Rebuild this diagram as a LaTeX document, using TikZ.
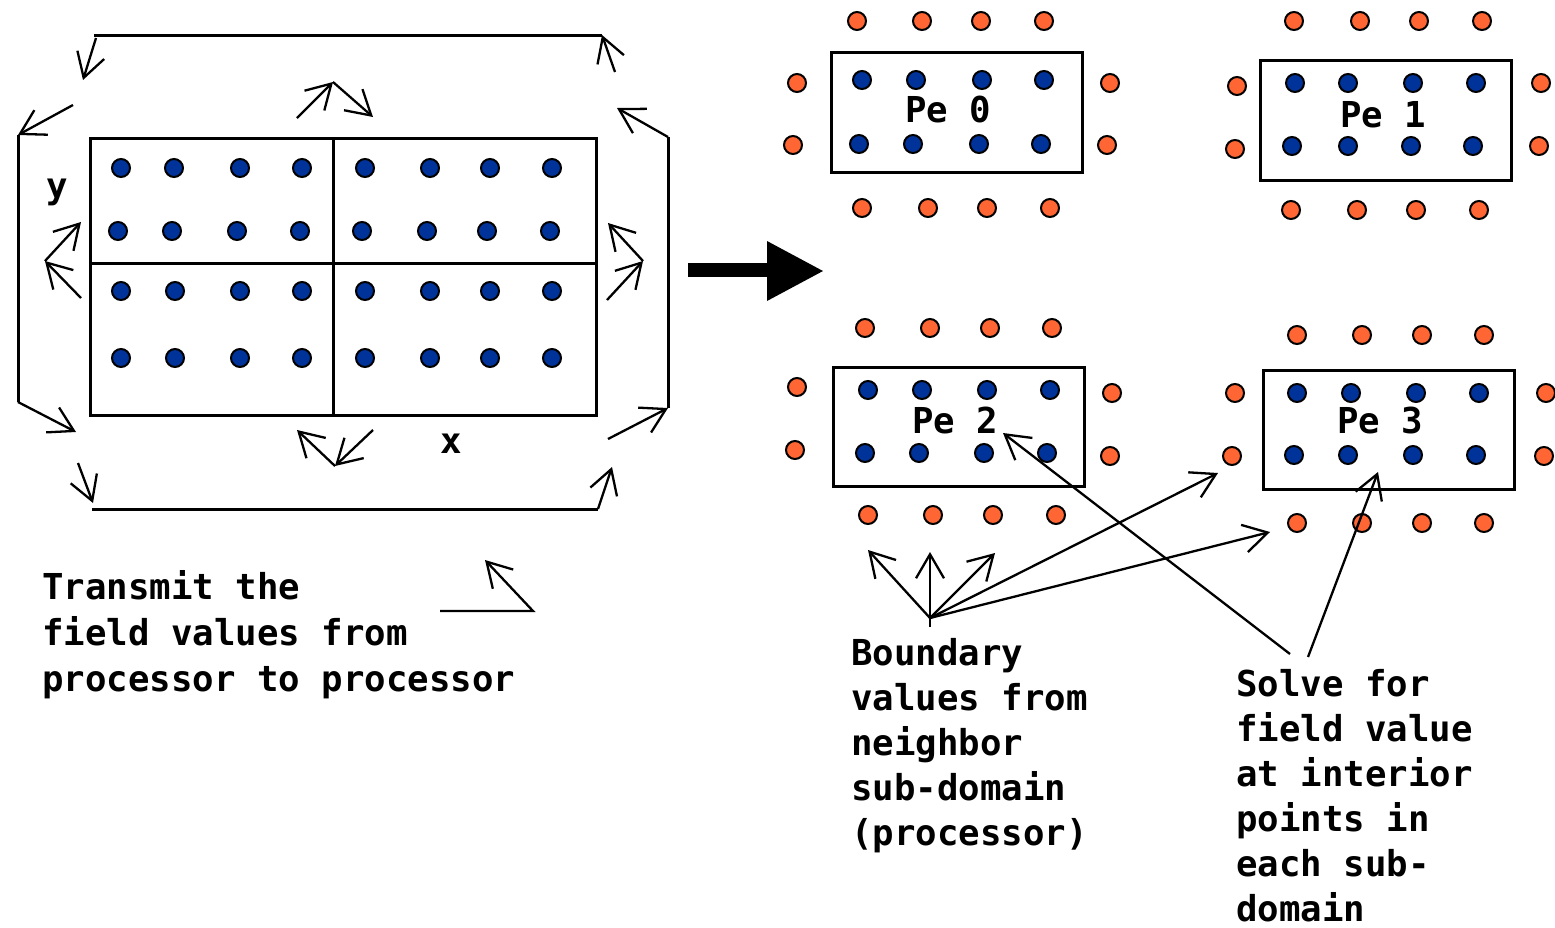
\documentclass[tikz,border=0pt]{standalone}
\usepackage{fontspec}
\newfontfamily\pixfont{DejaVu Sans Mono}
\usetikzlibrary{arrows.meta}
\definecolor{dotblue}{RGB}{0,51,153}
\definecolor{dotorange}{RGB}{255,102,51}
\tikzset{
  lbl/.style={font=\pixfont\bfseries\fontsize{35.7}{45}\selectfont, inner sep=0pt, anchor=base west},
  clbl/.style={lbl, anchor=base},
  frame/.style={line width=3pt},
  arr/.style={line width=2.3pt, -{Straight Barb[length=24pt,width=28pt,line width=2.3pt]}},
  bigarrow/.style={fill=black},
}
\newcommand{\bluedot}[2]{\filldraw[fill=dotblue,draw=black,line width=2pt] (#1,#2) circle (9pt);}
\newcommand{\orangedot}[2]{\filldraw[fill=dotorange,draw=black,line width=2pt] (#1,#2) circle (9pt);}
\begin{document}
\begin{tikzpicture}[x=1pt,y=-1pt]
\useasboundingbox (0,0) rectangle (1555,927);
\fill[white] (0,0) rectangle (1555,927);

% ---------- left grid ----------
\draw[frame] (90,138) rectangle (596,415);
\draw[frame] (333,138) -- (333,415);
\draw[frame] (90,263) -- (596,263);
\foreach \x in {121,174,240,302,365,430,490,552} {\bluedot{\x}{168}}
\foreach \x in {118,172,237,300,362,427,487,550} {\bluedot{\x}{231}}
\foreach \x in {121,175,240,302,365,430,490,552} {\bluedot{\x}{291}\bluedot{\x}{358}}
\node[clbl] (ylab) at (57,198) {y};
\node[clbl] (xlab) at (451,453) {x};

% ---------- surrounding loop ----------
\coordinate (tl) at (94,35);  \coordinate (tr) at (602,35);
\coordinate (lt) at (18,135); \coordinate (lb) at (18,402);
\coordinate (bl) at (92,509); \coordinate (br) at (598,509);
\coordinate (rt) at (668,137); \coordinate (rb) at (668,408);
\draw[frame] (tl) -- (tr);
\draw[frame] (lt) -- (lb);
\draw[frame] (bl) -- (br);
\draw[frame] (rt) -- (rb);
\draw[arr] (96,38) -- (83,80);
\draw[arr] (73,105) -- (lt);
\draw[arr] (lb) -- (76,432);
\draw[arr] (78,463) -- (93,503);
\draw[arr] (br) -- (612,467);
\draw[arr] (608,439) -- (rb);
\draw[arr] (rt) -- (617,108);
\draw[arr] (615,72) -- (tr);

% ---------- arrows around the grid ----------
\coordinate (topmid) at (333,82);
\coordinate (leftmid) at (45,261);
\coordinate (rightmid) at (643,261);
\coordinate (botmid) at (335,466);
\draw[arr] (297,118) -- (topmid);
\draw[arr] (topmid) -- (373,117);
\draw[arr] (81,298) -- (leftmid);
\draw[arr] (leftmid) -- (81,222);
\draw[arr] (607,300) -- (rightmid);
\draw[arr] (rightmid) -- (608,223);
\draw[arr] (373,430) -- (botmid);
\draw[arr] (botmid) -- (297,430);
\draw[arr] (440,611) -- (533,611) -- (485,560);

% ---------- big arrow ----------
\fill[bigarrow] (688,263) rectangle (768,277);
\fill[bigarrow] (767,241) -- (823,271) -- (767,301) -- cycle;

% ---------- Pe 0 ----------
\draw[frame] (831,52) rectangle (1082,172);
\foreach \x in {862,916,982,1044} {\bluedot{\x}{80}}
\foreach \x in {859,913,979,1041} {\bluedot{\x}{144}}
\foreach \x in {857,922,981,1044} {\orangedot{\x}{21}}
\foreach \x in {862,928,987,1050} {\orangedot{\x}{208}}
\orangedot{797}{83}\orangedot{793}{145}\orangedot{1110}{83}\orangedot{1107}{145}
\node[lbl] (pe0) at (905,122) {Pe 0};

% ---------- Pe 1 ----------
\draw[frame] (1260,60) rectangle (1511,180);
\foreach \x in {1295,1348,1413,1476} {\bluedot{\x}{83}}
\foreach \x in {1292,1348,1411,1473} {\bluedot{\x}{146}}
\foreach \x in {1294,1360,1419,1482} {\orangedot{\x}{21}}
\foreach \x in {1291,1357,1416,1479} {\orangedot{\x}{210}}
\orangedot{1237}{86}\orangedot{1235}{149}\orangedot{1541}{83}\orangedot{1539}{146}
\node[lbl] (pe1) at (1340,127) {Pe 1};

% ---------- Pe 2 ----------
\draw[frame] (833,367) rectangle (1084,486);
\foreach \x in {868,922,987,1050} {\bluedot{\x}{390}}
\foreach \x in {865,919,984,1047} {\bluedot{\x}{453}}
\foreach \x in {865,930,990,1052} {\orangedot{\x}{328}}
\foreach \x in {868,933,993,1056} {\orangedot{\x}{515}}
\orangedot{797}{387}\orangedot{795}{450}\orangedot{1112}{393}\orangedot{1110}{456}
\node[lbl] (pe2) at (912,433) {Pe 2};

% ---------- Pe 3 ----------
\draw[frame] (1263,370) rectangle (1514,489);
\foreach \x in {1297,1351,1416,1479} {\bluedot{\x}{393}}
\foreach \x in {1294,1348,1413,1476} {\bluedot{\x}{455}}
\foreach \x in {1297,1362,1422,1484} {\orangedot{\x}{335}\orangedot{\x}{523}}
\orangedot{1235}{393}\orangedot{1232}{456}\orangedot{1546}{393}\orangedot{1544}{456}
\node[lbl] (pe3) at (1337,433) {Pe 3};

% ---------- annotation arrows ----------
\coordinate (hub) at (930,618);
\draw[arr] (930,627) -- (930,552);
\draw[arr] (hub) -- (868,550);
\draw[arr] (hub) -- (995,553);
\draw[arr] (hub) -- (1218,473);
\draw[arr] (hub) -- (1270,532);
\coordinate (solvetail) at (1290,654);
\draw[arr] (solvetail) -- (1003,433);
\draw[arr] (1308,657) -- (1378,472);

% ---------- texts ----------
\node[lbl] (tA) at (42,599) {Transmit the};
\node[lbl] (tB) at (42,645) {field values from};
\node[lbl] (tC) at (42,691) {processor to processor};

\node[lbl] (bA) at (851,665) {Boundary};
\node[lbl] (bB) at (851,710) {values from};
\node[lbl] (bC) at (851,755) {neighbor};
\node[lbl] (bD) at (851,800) {sub-domain};
\node[lbl] (bE) at (851,845) {(processor)};

\node[lbl] (sA) at (1236,696) {Solve for};
\node[lbl] (sB) at (1236,741) {field value};
\node[lbl] (sC) at (1236,786) {at interior};
\node[lbl] (sD) at (1236,831) {points in};
\node[lbl] (sE) at (1236,876) {each sub-};
\node[lbl] (sF) at (1236,921) {domain};
\end{tikzpicture}
\end{document}
